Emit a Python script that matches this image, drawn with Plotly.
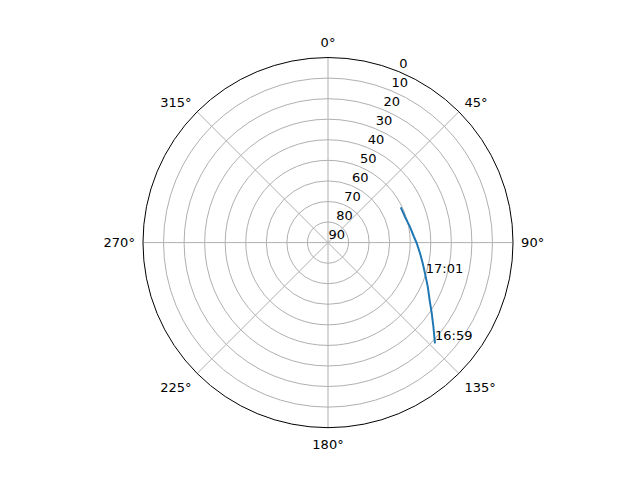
import plotly.graph_objects as go

# pass track, in time order: azimuth (deg), elevation (deg)
azimuth = [133.3, 128.6, 124.3, 119.5, 113.9, 107.6, 102.4, 96.7, 90.5, 86.1, 79.1, 71.5, 64.2]
elevation = [18.5, 24.4, 28.9, 33.2, 36.9, 40.5, 42.8, 44.9, 46.8, 48.1, 49.4, 50.5, 50.7]

# time labels at some of the track points
label_az = [133.3, 109.0]
label_el = [18.5, 39.7]
label_text = ['16:59', '17:01']

radial_ticks = [0, 10, 20, 30, 40, 50, 60, 70, 80, 90]
angle_ticks = [0, 45, 90, 135, 180, 225, 270, 315]

fig = go.Figure()

fig.add_trace(go.Scatterpolar(r=elevation, theta=azimuth, mode='lines',
                              line=dict(color='#1f77b4', width=2),
                              showlegend=False, hoverinfo='skip'))

fig.add_trace(go.Scatterpolar(r=label_el, theta=label_az, mode='text',
                              text=label_text, textposition='top right',
                              textfont=dict(color='black', size=13),
                              showlegend=False, hoverinfo='skip'))

# empty trace so the overlay subplot carrying the radial tick labels is drawn
fig.add_trace(go.Scatterpolar(r=[], theta=[], subplot='polar2',
                              showlegend=False, hoverinfo='skip'))

radial_common = dict(range=[90, 0], tickvals=radial_ticks, angle=67.5,
                     tickangle=67.5, showline=False, ticks='')

# the page puts the plot 8px in from the top-left, so the domain is nudged back
fig.update_layout(
    width=640, height=480,
    paper_bgcolor='white',
    margin=dict(l=0, r=0, t=0, b=0),
    font=dict(family='DejaVu Sans', size=13, color='black'),
    polar=dict(
        domain=dict(x=[0.2109, 0.7891], y=[0.1258, 0.8967]),
        bgcolor='white',
        radialaxis=dict(**radial_common, showticklabels=False,
                        gridcolor='#b0b0b0', gridwidth=1),
        angularaxis=dict(rotation=90, direction='clockwise',
                         tickvals=angle_ticks,
                         ticktext=[f'{a}°' for a in angle_ticks],
                         ticks='outside', ticklen=5, tickcolor='rgba(0,0,0,0)',
                         showline=True, linecolor='black', linewidth=1,
                         gridcolor='#b0b0b0', gridwidth=1),
    ),
    # same scale, shifted a little up and left, so the labels sit like matplotlib's
    polar2=dict(
        domain=dict(x=[0.2015, 0.7797], y=[0.1529, 0.9238]),
        bgcolor='rgba(0,0,0,0)',
        radialaxis=dict(**radial_common, showgrid=False),
        angularaxis=dict(visible=False, rotation=90, direction='clockwise'),
    ),
)

fig.write_html("out.html")
